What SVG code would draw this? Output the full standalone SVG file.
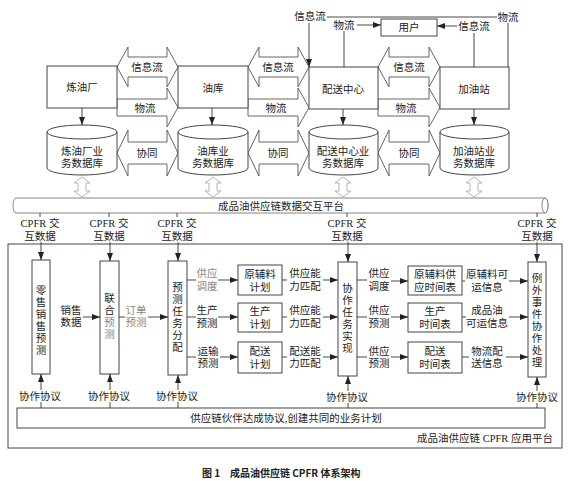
<svg xmlns="http://www.w3.org/2000/svg" width="570" height="481" viewBox="0 0 570 481">
<defs>
<style>
text{font-family:"Liberation Serif","Noto Sans CJK SC",serif;font-size:10.5px;fill:#222;text-anchor:middle;dominant-baseline:central}
.g{fill:#888}
.box{fill:#fff;stroke:#444;stroke-width:1}
.blk{fill:#fff;stroke:#555;stroke-width:0.9}
.thin{fill:#fff;stroke:#aaa;stroke-width:0.9}
.ln{fill:none;stroke:#333;stroke-width:0.9}
.ar{fill:none;stroke:#333;stroke-width:0.9;marker-end:url(#ah)}
.cap{font-family:"Noto Sans CJK SC","Liberation Sans",sans-serif;font-weight:bold;font-size:10px;text-anchor:start}
</style>
<marker id="ah" markerWidth="8" markerHeight="6" refX="8" refY="3" orient="auto" markerUnits="userSpaceOnUse"><path d="M0,0 L8,3 L0,6 z" fill="#222"/></marker>
</defs>
<rect width="570" height="481" fill="#fff"/>

<g id="flows">
<polygon class="blk" points="117,67 128,47 128,57 167,57 167,47 178,67 167,87 167,77 128,77 128,87"/>
<polygon class="blk" points="248,67 259,47 259,57 298,57 298,47 309,67 298,87 298,77 259,77 259,87"/>
<polygon class="blk" points="378,67 389,47 389,57 429,57 429,47 440,67 429,87 429,77 389,77 389,87"/>
<polygon class="blk" points="117,99 167,99 167,88 178,107.5 167,127 167,116 117,116"/>
<polygon class="blk" points="248,99 298,99 298,88 309,107.5 298,127 298,116 248,116"/>
<polygon class="blk" points="378,99 429,99 429,88 440,107.5 429,127 429,116 378,116"/>
<text x="147" y="67">信息流</text>
<text x="278" y="67">信息流</text>
<text x="409" y="67">信息流</text>
<text x="145" y="108">物流</text>
<text x="276" y="108">物流</text>
<text x="406" y="108">物流</text>
<polygon class="blk" points="117,153 128,130 128,142 167,142 167,130 178,153 167,176 167,164 128,164 128,176"/>
<polygon class="blk" points="248,153 259,130 259,142 298,142 298,130 309,153 298,176 298,164 259,164 259,176"/>
<polygon class="blk" points="378,153 389,130 389,142 429,142 429,130 440,153 429,176 429,164 389,164 389,176"/>
<text x="147" y="153">协同</text>
<text x="278" y="153">协同</text>
<text x="409" y="153">协同</text>
<polygon class="thin" points="82,177 90,183 86,183 86,191 90,191 82,197 74,191 78,191 78,183 74,183"/>
<polygon class="thin" points="213,177 221,183 217,183 217,191 221,191 213,197 205,191 209,191 209,183 205,183"/>
<polygon class="thin" points="343,177 351,183 347,183 347,191 351,191 343,197 335,191 339,191 339,183 335,183"/>
<polygon class="thin" points="474,177 482,183 478,183 478,191 482,191 474,197 466,191 470,191 470,183 466,183"/>
</g>

<g id="refinery"><rect class="box" x="47" y="66" width="70" height="42"/><text x="82" y="87">炼油厂</text></g>
<g id="depot"><rect class="box" x="178" y="66" width="70" height="42"/><text x="213" y="88">油库</text></g>
<g id="dc"><rect class="box" x="309" y="67" width="69" height="42"/><text x="343" y="89">配送中心</text></g>
<g id="station"><rect class="box" x="440" y="67" width="69" height="42"/><text x="474" y="89">加油站</text></g>
<g id="user"><rect class="box" x="381" y="19" width="56" height="17"/><text x="409" y="27">用户</text></g>

<g id="db-refinery"><path class="box" d="M47,132 A35,7 0 0 1 117,132 A35,7 0 0 1 47,132 Z M47,132 V168 A35,7 0 0 0 117,168 V132"/><text x="82" y="151">炼油厂业</text><text x="82" y="163">务数据库</text></g>
<g id="db-depot"><path class="box" d="M178,132 A35,7 0 0 1 248,132 A35,7 0 0 1 178,132 Z M178,132 V168 A35,7 0 0 0 248,168 V132"/><text x="213" y="151">油库业</text><text x="213" y="163">务数据库</text></g>
<g id="db-dc"><path class="box" d="M309,132 A34.5,7 0 0 1 378,132 A34.5,7 0 0 1 309,132 Z M309,132 V168 A34.5,7 0 0 0 378,168 V132"/><text x="343" y="151">配送中心业</text><text x="343" y="163">务数据库</text></g>
<g id="db-station"><path class="box" d="M440,132 A34.5,7 0 0 1 509,132 A34.5,7 0 0 1 440,132 Z M440,132 V168 A34.5,7 0 0 0 509,168 V132"/><text x="474" y="151">加油站业</text><text x="474" y="163">务数据库</text></g>

<g id="data-platform"><path fill="#fff" stroke="#777" stroke-width="0.9" d="M16,198 H545 A3,7.5 0 0 1 545,213 H16 A3,7.5 0 0 1 16,198 Z"/><ellipse cx="545" cy="205.5" rx="3" ry="7.5" fill="#fff" stroke="#777" stroke-width="0.9"/><text x="281" y="206">成品油供应链数据交互平台</text></g>

<g id="cpfr-platform"><rect x="8" y="244" width="554" height="204" fill="none" stroke="#444" stroke-width="1"/><text x="553" y="438" style="text-anchor:end">成品油供应链 CPFR 应用平台</text></g>

<g id="labels-cpfr">
<text x="40" y="223">CPFR 交</text><text x="40" y="236">互数据</text>
<text x="109" y="223">CPFR 交</text><text x="109" y="236">互数据</text>
<text x="177" y="223">CPFR 交</text><text x="177" y="236">互数据</text>
<text x="347" y="223">CPFR 交</text><text x="347" y="236">互数据</text>
<text x="537" y="223">CPFR 交</text><text x="537" y="236">互数据</text>
<text x="40" y="396">协作协议</text>
<text x="109" y="396">协作协议</text>
<text x="177" y="396">协作协议</text>
<text x="347" y="397">协作协议</text>
<text x="537" y="397">协作协议</text>
</g>

<g id="retail-forecast"><rect class="box" x="32" y="260" width="18" height="114"/>
<text x="41" y="290">零</text><text x="41" y="302">售</text><text x="41" y="314">销</text><text x="41" y="326">售</text><text x="41" y="338">预</text><text x="41" y="350">测</text></g>
<g id="joint-forecast"><rect class="box" x="100" y="261" width="19" height="113"/>
<text x="109.5" y="298">联</text><text x="109.5" y="310">合</text><text class="g" x="109.5" y="322">预</text><text class="g" x="109.5" y="334">测</text></g>
<g id="task-alloc"><rect class="box" x="168" y="261" width="19" height="114"/>
<text x="177.5" y="287">预</text><text x="177.5" y="299">测</text><text x="177.5" y="311">任</text><text x="177.5" y="323">务</text><text x="177.5" y="335">分</text><text x="177.5" y="347">配</text></g>
<g id="task-impl"><rect class="box" x="338" y="262" width="19" height="114"/>
<text x="347.5" y="288">协</text><text x="347.5" y="300">作</text><text x="347.5" y="312">任</text><text x="347.5" y="324">务</text><text x="347.5" y="336">实</text><text x="347.5" y="348">现</text></g>
<g id="exception"><rect class="box" x="528" y="262" width="18" height="115"/>
<text x="537" y="278">例</text><text x="537" y="290">外</text><text x="537" y="302">事</text><text x="537" y="314">件</text><text x="537" y="326">协</text><text x="537" y="338">作</text><text x="537" y="350">处</text><text x="537" y="362">理</text></g>

<g id="plan-material"><rect class="box" x="238" y="265" width="44" height="30"/><text x="260" y="274">原辅料</text><text x="260" y="287">计划</text></g>
<g id="plan-prod"><rect class="box" x="238" y="303" width="44" height="29"/><text x="260" y="311">生产</text><text x="260" y="324">计划</text></g>
<g id="plan-dist"><rect class="box" x="238" y="342" width="44" height="31"/><text x="260" y="351">配送</text><text x="260" y="364">计划</text></g>
<g id="sched-material"><rect class="box" x="408" y="266" width="54" height="29"/><text x="435" y="274">原辅料供</text><text x="435" y="287">应时间表</text></g>
<g id="sched-prod"><rect class="box" x="408" y="303" width="54" height="29"/><text x="435" y="311">生产</text><text x="435" y="324">时间表</text></g>
<g id="sched-dist"><rect class="box" x="408" y="342" width="54" height="31"/><text x="435" y="351">配送</text><text x="435" y="364">时间表</text></g>

<g id="agreement"><rect class="box" x="17" y="408" width="528" height="20"/><text x="286" y="418.5">供应链伙伴达成协议,创建共同的业务计划</text></g>

<g id="connectors">
<text x="310" y="16">信息流</text>
<path class="ar" d="M309,23 V67"/>
<path class="ln" d="M327,17 H497"/>
<text x="508" y="17">物流</text>
<path class="ln" d="M508,23 V67"/>
<text x="344" y="25">物流</text>
<path class="ar" d="M357,25 H381"/>
<path class="ln" d="M344,31 V67"/>
<text x="474" y="26">信息流</text>
<path class="ar" d="M457,26 H437"/>
<path class="ln" d="M474,33 V67"/>
<path class="ar" d="M82,108 V125"/>
<path class="ar" d="M212,108 V125"/>
<path class="ar" d="M343,109 V125"/>
<path class="ar" d="M474,109 V125"/>

<path class="ln" d="M40,213 V217 M109,213 V217 M177,213 V217 M347,213 V217 M537,213 V217"/>
<path class="ar" d="M41,242 V260"/>
<path class="ar" d="M110,242 V261"/>
<path class="ar" d="M178,242 V261"/>
<path class="ar" d="M348,242 V262"/>
<path class="ar" d="M537,242 V262"/>

<path class="ar" d="M41,390 V374"/>
<path class="ar" d="M110,390 V374"/>
<path class="ar" d="M178,390 V375"/>
<path class="ar" d="M348,391 V376"/>
<path class="ar" d="M537,391 V377"/>
<path class="ln" d="M41,402 V408 M110,402 V408 M178,402 V408 M348,403 V408 M537,403 V408"/>

<text x="71" y="310">销售</text><text x="71" y="322">数据</text>
<path class="ar" d="M83,317 H100"/>
<text class="g" x="136" y="310">订单</text><text class="g" x="136" y="322">预测</text>
<path class="ln" d="M119,317 H125" stroke="#888"/>
<path class="ar" d="M148,317 H168"/>

<path class="ln" d="M187,280 H196"/>
<text class="g" x="207" y="273">供应</text><text class="g" x="207" y="286">调度</text>
<path class="ar" d="M218,280 H238"/>
<path class="ln" d="M187,317 H196"/>
<text x="207" y="310">生产</text><text x="207" y="323">预测</text>
<path class="ar" d="M218,317 H238"/>
<path class="ln" d="M187,357 H196"/>
<text x="208" y="351">运输</text><text x="208" y="363">预测</text>
<path class="ar" d="M220,357 H238"/>

<path class="ln" d="M282,280 H287"/>
<text x="305" y="273">供应能</text><text x="305" y="286">力匹配</text>
<path class="ar" d="M323,280 H338"/>
<path class="ln" d="M282,317 H287"/>
<text x="305" y="310">供应能</text><text x="305" y="323">力匹配</text>
<path class="ar" d="M323,317 H338"/>
<path class="ln" d="M282,357 H287"/>
<text x="305" y="351">配送能</text><text x="305" y="363">力匹配</text>
<path class="ar" d="M323,357 H338"/>

<path class="ln" d="M357,280 H367"/>
<text x="379" y="273">供应</text><text x="379" y="286">调度</text>
<path class="ar" d="M391,281 H408"/>
<path class="ln" d="M357,317 H367"/>
<text x="379" y="310">供应</text><text x="379" y="323">预测</text>
<path class="ar" d="M391,317 H408"/>
<path class="ln" d="M357,357 H367"/>
<text x="379" y="351">供应</text><text x="379" y="363">预测</text>
<path class="ar" d="M391,357 H408"/>

<path class="ln" d="M462,281 H465"/>
<text x="487" y="274">原辅料可</text><text x="487" y="287">运信息</text>
<path class="ar" d="M509,281 H528"/>
<path class="ln" d="M462,317 H466"/>
<text x="487" y="310">成品油</text><text x="487" y="323">可运信息</text>
<path class="ar" d="M509,317 H528"/>
<path class="ln" d="M462,357 H469"/>
<text x="487" y="351">物流配</text><text x="487" y="363">送信息</text>
<path class="ar" d="M506,357 H528"/>
</g>

<g id="caption"><text class="cap" x="202" y="472">图 1</text><text class="cap" x="230" y="472">成品油供应链 CPFR 体系架构</text></g>
</svg>
